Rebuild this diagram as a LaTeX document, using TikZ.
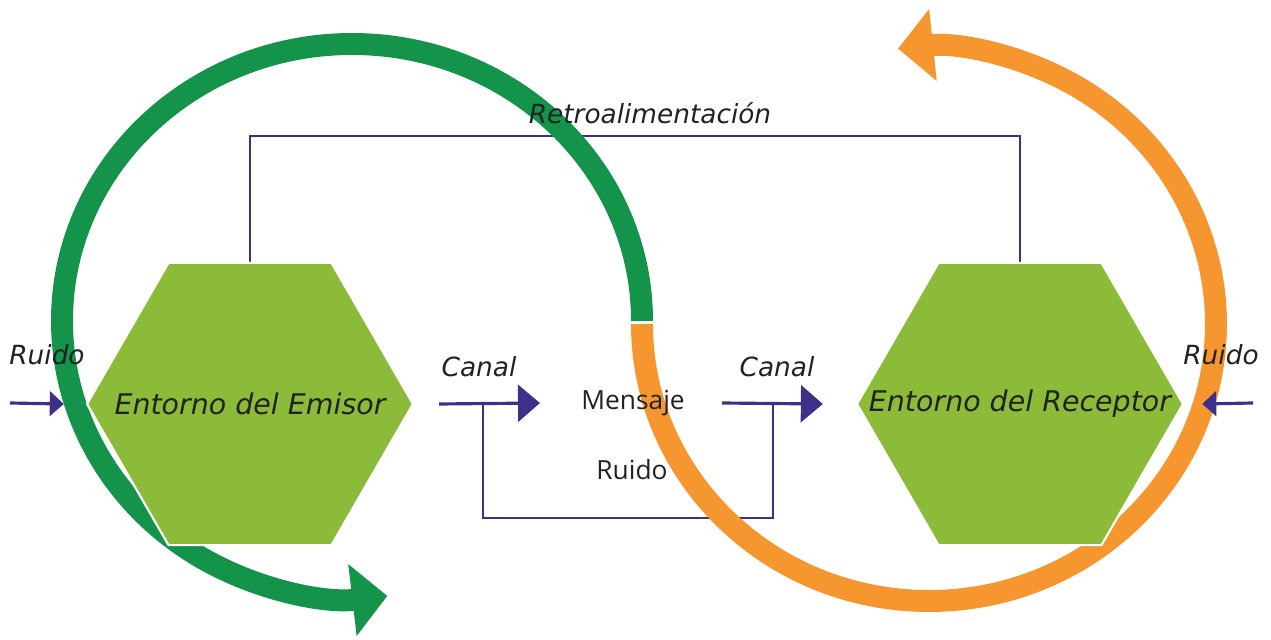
\documentclass[tikz,border=0pt]{standalone}
\usepackage{fontspec}
\usetikzlibrary{arrows.meta,shapes.geometric}
\newfontfamily\handfont{DejaVu Sans}
\newfontfamily\labelfont{Open Sans}
\definecolor{hexgreen}{HTML}{8CBB3A}
\definecolor{arcgreen}{HTML}{14934A}
\definecolor{arcorange}{HTML}{F6962F}
\definecolor{linepurple}{HTML}{3E2F8B}
\definecolor{textdark}{HTML}{222222}
\pgfdeclarelayer{lines}
\pgfdeclarelayer{arcs}
\pgfsetlayers{lines,arcs,main}

\begin{document}
\begin{tikzpicture}[x=0.02cm,y=0.02cm,
        hexagon/.style={regular polygon, regular polygon sides=6, minimum size=6.52cm, inner sep=0pt,
            fill=hexgreen, draw=white, line width=1.2pt},
        hexlabel/.style={text=textdark, font=\handfont\itshape\fontsize{16.2}{18}\selectfont},
        hand/.style={text=textdark, font=\handfont\itshape\fontsize{15}{17}\selectfont},
        sanslabel/.style={text=textdark, inner sep=0pt, font=\labelfont\fontsize{15}{18}\selectfont},
        thinline/.style={draw=linepurple, line width=1.1pt},
        channel/.style={draw=linepurple, line width=1.8pt, -{Triangle[length=12.5pt,width=21pt]}},
        noise/.style={draw=linepurple, line width=1.8pt, -{Triangle[length=8pt,width=14pt]}},
        bigarc/.style={line width=12.5pt, -{Triangle[length=20pt,width=40pt]}}]
        \useasboundingbox (0,0) rectangle (1271,639);

        \node[hexagon, label={[hexlabel]center:Entorno del Emisor}] (emisor) at (250,235) {};
        \node[hexagon, label={[hexlabel]center:Entorno del Receptor}] (receptor) at (1020,235) {};
        \node[sanslabel] (mensaje) at (633,236) {Mensaje};
        \node[sanslabel] (ruidoC) at (632,169) {Ruido};
        \node[hand] (retro) at (650,526) {Retroalimentación};
        \node[hand] (ruidoL) at (47,284) {Ruido};
        \node[hand] (ruidoR) at (1221,284) {Ruido};
        \node[hand] (canalA) at (479,272) {Canal};
        \node[hand] (canalB) at (777,272) {Canal};

        \coordinate (noiseL) at (10,236);
        \coordinate (noiseR) at (1253,236);
        \coordinate (tapA) at (483,236);
        \coordinate (tapB) at (773,236);

        \begin{pgfonlayer}{lines}
        \draw[thinline] (emisor.north) -- ++(0,126) -| (receptor.north);
        \draw[thinline] (tapA) -- ++(0,-115) -| (tapB);
        \end{pgfonlayer}

        \begin{pgfonlayer}{arcs}
        \draw[bigarc, arcgreen] (642,318) arc[start angle=0, end angle=277, x radius=290, y radius=277];
        \draw[bigarc, arcorange] (642,315) arc[start angle=180, end angle=456.2, x radius=287, y radius=277];
        \end{pgfonlayer}

        \draw[channel] ([xshift=0.5cm]emisor.east) -- ([xshift=-0.82cm]mensaje.west);
        \draw[channel] ([xshift=0.74cm]mensaje.east) -- ([xshift=-0.66cm]receptor.west);
        \draw[noise] (noiseL) -- ([xshift=-0.44cm]emisor.west);
        \draw[noise] (noiseR) -- ([xshift=0.36cm]receptor.east);
    \end{tikzpicture}
\end{document}
